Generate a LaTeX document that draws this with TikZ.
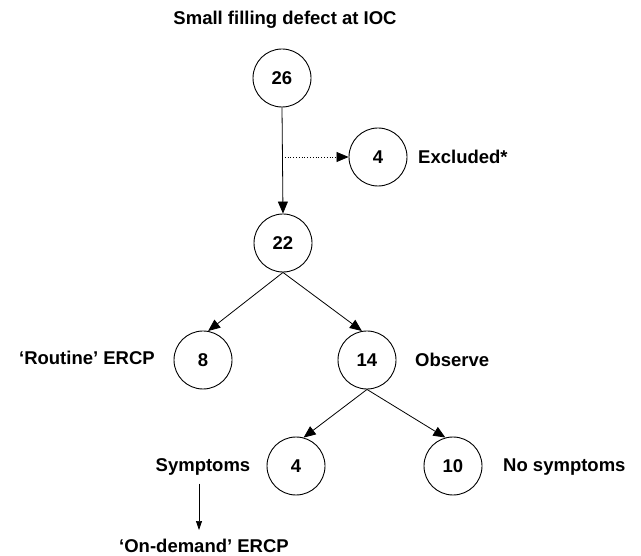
\documentclass[tikz,border=0pt]{standalone}
\usepackage{fontspec}
\setmainfont{Liberation Sans}
\usetikzlibrary{arrows.meta,positioning}

\begin{document}
\begin{tikzpicture}[x=1pt,y=-1pt,
    num/.style={circle, draw, line width=0.9pt, minimum size=58pt, inner sep=0pt,
        font=\fontsize{18.5}{22}\selectfont\bfseries},
    lbl/.style={inner sep=0pt, font=\fontsize{18.5}{22}\selectfont\bfseries},
    flow/.style={-{Triangle[length=12pt,width=10pt]}, line width=0.8pt},
    minorflow/.style={-{Triangle[length=9pt,width=6pt]}, line width=0.7pt}]
    \useasboundingbox (0,0) rectangle (641,556);

    \node[lbl] (title) at (285,20) {Small filling defect at IOC};
    \node[num] (n26) at (282,78) {26};
    \node[num] (nexcl) at (378,157) {4};
    \node[num] (n22) at (283,243) {22};
    \node[num] (n8) at (203,360) {8};
    \node[num] (n14) at (367,360) {14};
    \node[num] (nsym) at (296,466) {4};
    \node[num] (n10) at (453,466) {10};

    \node[lbl, anchor=west] (excl) at (418,157) {Excluded*};
    \node[lbl, anchor=east] (routine) at (155,358) {‘Routine’ ERCP};
    \node[lbl, anchor=west] (observe) at (415,360) {Observe};
    \node[lbl] (symptoms) at (203,467) {Symptoms};
    \node[lbl, anchor=west] (nosym) at (503,467) {No symptoms};
    \node[lbl] (ondemand) at (204,546) {‘On-demand’ ERCP};

    \coordinate (split) at (n26.south |- nexcl.west);
    \draw[flow] (n26.south) -- (n22.north);
    \draw[flow, dotted] (split) -- (nexcl.west);
    \draw[flow] (n22.south) -- (n8.80);
    \draw[flow] (n22.south) -- (n14.100);
    \draw[flow] (n14.south) -- (nsym.75);
    \draw[flow] (n14.south) -- (n10.105);
    \draw[minorflow, shorten <=8pt, shorten >=9pt] (symptoms.south -| 199,0) -- (ondemand.north -| 199,0);
\end{tikzpicture}
\end{document}
